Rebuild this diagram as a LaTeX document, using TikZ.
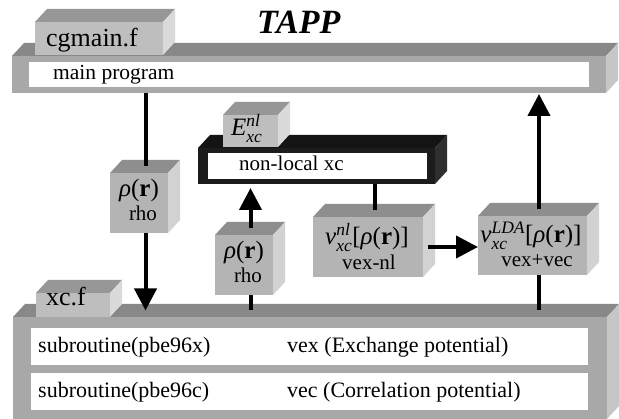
\documentclass[tikz,border=0pt]{standalone}
\usepackage{fontspec}
\setmainfont{Liberation Serif}
\usepackage{amsmath}
\usetikzlibrary{arrows.meta,fit,calc}
\definecolor{barF}{HTML}{A8A8A8}
\definecolor{barT}{HTML}{888888}
\definecolor{barS}{HTML}{C6C6C6}
\definecolor{tabF}{HTML}{BEBEBE}
\definecolor{tabT}{HTML}{979797}
\definecolor{tabS}{HTML}{DADADA}
\definecolor{boxF}{HTML}{B4B4B4}
\definecolor{boxT}{HTML}{8E8E8E}
\definecolor{boxS}{HTML}{D2D2D2}
\definecolor{nlF}{HTML}{1C1C1C}
\definecolor{nlT}{HTML}{141414}
\definecolor{nlS}{HTML}{2E2E2E}
\newcommand\fsz[1]{\fontsize{#1}{#1}\selectfont}
\newcommand\supsb[2]{$^{\text{\itshape #1}}_{\text{\itshape #2}}$}
% name, x1, y1, x2, y2, front, top, side
\newcommand\cube[8]{%
  \fill[#7] (#2,#3) -- (#2+12,#3-13) -- (#4+12,#3-13) -- (#4,#3) -- cycle;
  \fill[#8] (#4,#3) -- (#4+12,#3-13) -- (#4+12,#5-13) -- (#4,#5) -- cycle;
  \coordinate (#1-a) at (#2,#3);
  \coordinate (#1-b) at (#4,#5);
  \coordinate (#1-t) at ({(#2+#4)/2+6.5},#3-6.5);
  \node[fit=(#1-a)(#1-b), inner sep=0pt, outer sep=0pt, fill=#6] (#1) {};
}
\tikzset{
  panel/.style={fill=white, inner sep=0pt, outer sep=0pt, anchor=north west},
  lbl/.style={inner sep=0pt, anchor=base west, font=\fsz{21}},
  ln/.style={line width=4pt},
  arr/.style={line width=4pt, -{Triangle[length=22pt,width=22pt]}}
}
\begin{document}
\begin{tikzpicture}[x=1pt,y=-1pt]
\useasboundingbox (0,0) rectangle (619,419);
\fill[white] (0,0) rectangle (619,419);
% main program bar
\cube{main}{12}{56}{606}{93}{barF}{barT}{barS}
\node[panel, minimum width=560pt, minimum height=25pt] (mainP) at (29,62) {};
\node[lbl, font=\fsz{21.5}] (tmain) at (53,80) {main program};
\cube{cg}{35}{22}{163}{55}{tabF}{tabT}{tabS}
\node[lbl, font=\fsz{26}] (tcg) at (46,47) {cgmain.f};
\node[inner sep=0pt, anchor=base west, font=\fsz{34}\bfseries\itshape] (title) at (257,34) {TAPP};
% xc.f bar
\cube{xc}{13}{317}{607}{419}{barF}{barT}{barS}
\node[panel, minimum width=557pt, minimum height=37pt] (row1) at (31,328) {};
\node[panel, minimum width=557pt, minimum height=37pt] (row2) at (31,373) {};
\node[lbl, font=\fsz{22}] (r1a) at (38,353) {subroutine(pbe96x)};
\node[lbl, font=\fsz{22}] (r1b) at (287,353) {vex (Exchange potential)};
\node[lbl, font=\fsz{22}] (r2a) at (38,398) {subroutine(pbe96c)};
\node[lbl, font=\fsz{22}] (r2b) at (287,398) {vec (Correlation potential)};
\cube{xctab}{36}{293}{110}{317}{tabF}{tabT}{tabS}
\node[lbl, font=\fsz{26}] (txc) at (46,306) {xc.f};
% non-local xc
\cube{nl}{198}{148}{435}{184}{nlF}{nlT}{nlS}
\node[panel, minimum width=219pt, minimum height=26pt] (nlP) at (208,153) {};
\node[lbl] (tnl) at (239,171) {non-local xc};
\cube{etab}{223}{115}{278}{147}{tabF}{tabT}{tabS}
\node[lbl, font=\fsz{25}] (tE) at (231,136) {\textit{E}\supsb{nl}{xc}};
% small boxes
\cube{rhoL}{110}{173}{168}{233}{boxF}{boxT}{boxS}
\node[inner sep=0pt, anchor=base, font=\fsz{25}] (rL1) at (139,197) {\textit{ρ}(\textbf{r})};
\node[inner sep=0pt, anchor=base, font=\fsz{21}] (rL2) at (143,221) {rho};
\cube{rhoM}{215}{235}{273}{295}{boxF}{boxT}{boxS}
\node[inner sep=0pt, anchor=base, font=\fsz{25}] (rM1) at (244,259) {\textit{ρ}(\textbf{r})};
\node[inner sep=0pt, anchor=base, font=\fsz{21}] (rM2) at (248,283) {rho};
\cube{vnl}{313}{217}{423}{277}{boxF}{boxT}{boxS}
\node[inner sep=0pt, anchor=base, font=\fsz{25}] (vn1) at (367,245) {\textit{v}\supsb{nl}{xc}[\textit{ρ}(\textbf{r})]};
\node[inner sep=0pt, anchor=base, font=\fsz{21}] (vn2) at (369,270) {vex-nl};
\cube{vlda}{478}{216}{587}{275}{boxF}{boxT}{boxS}
\node[inner sep=0pt, anchor=base, font=\fsz{25}] (vl1) at (531,243) {\textit{v}\supsb{LDA}{xc}[\textit{ρ}(\textbf{r})]};
\node[inner sep=0pt, anchor=base, font=\fsz{21}] (vl2) at (537,267) {vex+vec};
% connectors
\draw[ln] (main.south -| rhoL-t) -- (rhoL-t);
\draw[arr] (rhoL-t |- rhoL.south) -- (rhoL-t |- xc-t);
\draw[ln] (rhoM-t |- xc-t) -- (rhoM-t |- rhoM.south);
\draw[arr] (rhoM-t) -- ($(rhoM-t |- nl.south)+(0,4)$);
\draw[ln] (vnl-t |- nl.south) -- (vnl-t);
\draw[arr] ($(vnl.east)+(5,0)$) -- (vlda.west |- vnl.east);
\draw[ln] (vlda-t |- xc-t) -- (vlda-t |- vlda.south);
\draw[arr] (vlda-t) -- ($(vlda-t |- main.south)+(0,1)$);
\end{tikzpicture}
\end{document}
